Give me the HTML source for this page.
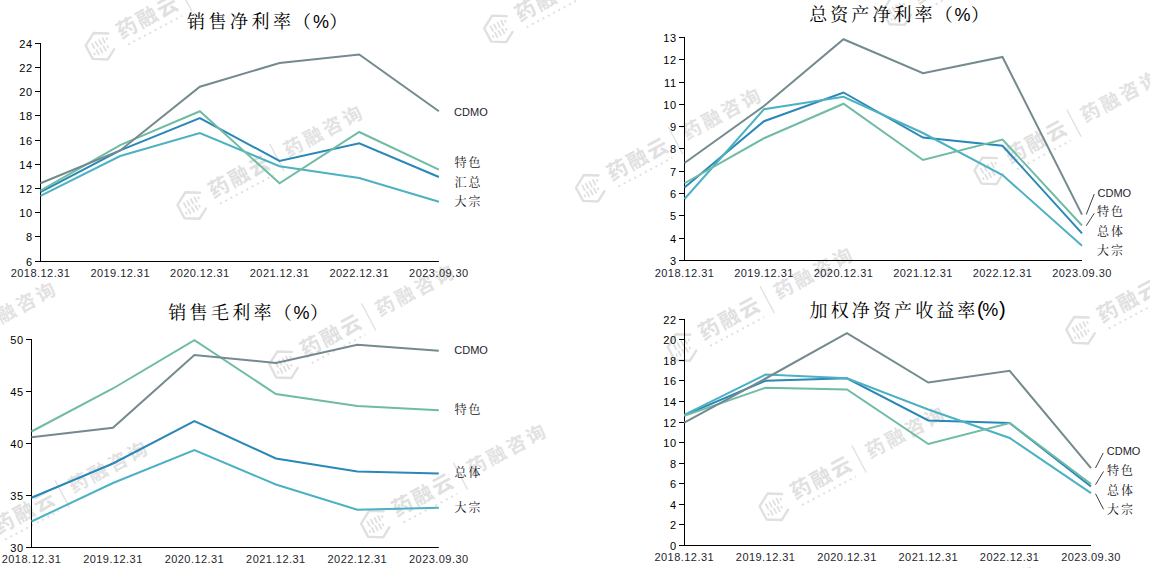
<!DOCTYPE html>
<html><head><meta charset="utf-8"><title>chart</title>
<style>
html,body{margin:0;padding:0;background:#fff;}
body{width:1150px;height:568px;overflow:hidden;}
svg{display:block;}
.yl{font-family:"Liberation Sans", sans-serif;font-size:11px;fill:#000;letter-spacing:0.7px;}
.xl{font-family:"Liberation Sans", sans-serif;font-size:11px;fill:#1e1e2e;letter-spacing:0.45px;}
.cd{font-family:"Liberation Sans", sans-serif;font-size:11px;fill:#1e1e2e;}
.lb{font-family:"Liberation Serif", "Noto Serif CJK SC", serif;font-size:12px;fill:#141420;letter-spacing:2px;}
.tt{font-family:"Liberation Serif", "Noto Serif CJK SC", serif;font-size:18px;fill:#000;}
.tp{font-family:"Liberation Sans", sans-serif;font-size:18px;fill:#000;}
.tq{font-family:"Liberation Sans", sans-serif;font-size:20px;fill:#000;}
.w1{font-family:"Liberation Sans", "Noto Sans CJK SC", sans-serif;font-size:20.5px;font-weight:700;fill:#e0e0e0;letter-spacing:2.2px;}
.w2{font-family:"Liberation Sans", "Noto Sans CJK SC", sans-serif;font-size:19px;font-weight:700;fill:#e2e2e2;letter-spacing:3.2px;}
</style></head>
<body>
<svg width="1150" height="568" viewBox="0 0 1150 568">
<rect width="1150" height="568" fill="#fff"/>
<g id="wm">
<g transform="translate(-206.0,222.8) rotate(-28)">
<path d="M 12.60 -7.72 L 0.00 -15.00 L -12.99 -7.50 L -12.99 7.50 L -0.00 15.00 L 10.39 9.00" fill="none" stroke="#e0e0e0" stroke-width="2.4" stroke-linejoin="round" stroke-linecap="round"/>
<line x1="-6.5" y1="-6.30" x2="-6.5" y2="-1.30" stroke="#e0e0e0" stroke-width="1.8" stroke-linecap="round"/>
<line x1="-2.5" y1="-6.30" x2="-2.5" y2="-1.30" stroke="#e0e0e0" stroke-width="1.8" stroke-linecap="round"/>
<line x1="1.5" y1="-6.30" x2="1.5" y2="-1.30" stroke="#e0e0e0" stroke-width="1.8" stroke-linecap="round"/>
<line x1="5.5" y1="-6.30" x2="5.5" y2="-1.30" stroke="#e0e0e0" stroke-width="1.8" stroke-linecap="round"/>
<line x1="9" y1="-4.40" x2="9" y2="-3.20" stroke="#e0e0e0" stroke-width="1.8" stroke-linecap="round"/>
<line x1="-9" y1="3.20" x2="-9" y2="4.40" stroke="#e0e0e0" stroke-width="1.8" stroke-linecap="round"/>
<line x1="-5.5" y1="1.30" x2="-5.5" y2="6.30" stroke="#e0e0e0" stroke-width="1.8" stroke-linecap="round"/>
<line x1="-1.5" y1="1.30" x2="-1.5" y2="6.30" stroke="#e0e0e0" stroke-width="1.8" stroke-linecap="round"/>
<line x1="2.5" y1="1.30" x2="2.5" y2="6.30" stroke="#e0e0e0" stroke-width="1.8" stroke-linecap="round"/>
<line x1="6" y1="3.20" x2="6" y2="4.40" stroke="#e0e0e0" stroke-width="1.8" stroke-linecap="round"/>
<text x="21.5" y="3.5" class="w1">药融云</text>
<line x1="25" y1="11.4" x2="86" y2="11.4" stroke="#e0e0e0" stroke-width="2" stroke-dasharray="2 4"/>
<line x1="97" y1="-18" x2="97" y2="12.7" stroke="#e0e0e0" stroke-width="1.3"/>
<text x="107" y="2.5" class="w2">药融咨询</text>
</g>
<g transform="translate(-114.2,382.1) rotate(-28)">
<path d="M 12.60 -7.72 L 0.00 -15.00 L -12.99 -7.50 L -12.99 7.50 L -0.00 15.00 L 10.39 9.00" fill="none" stroke="#e0e0e0" stroke-width="2.4" stroke-linejoin="round" stroke-linecap="round"/>
<line x1="-6.5" y1="-6.30" x2="-6.5" y2="-1.30" stroke="#e0e0e0" stroke-width="1.8" stroke-linecap="round"/>
<line x1="-2.5" y1="-6.30" x2="-2.5" y2="-1.30" stroke="#e0e0e0" stroke-width="1.8" stroke-linecap="round"/>
<line x1="1.5" y1="-6.30" x2="1.5" y2="-1.30" stroke="#e0e0e0" stroke-width="1.8" stroke-linecap="round"/>
<line x1="5.5" y1="-6.30" x2="5.5" y2="-1.30" stroke="#e0e0e0" stroke-width="1.8" stroke-linecap="round"/>
<line x1="9" y1="-4.40" x2="9" y2="-3.20" stroke="#e0e0e0" stroke-width="1.8" stroke-linecap="round"/>
<line x1="-9" y1="3.20" x2="-9" y2="4.40" stroke="#e0e0e0" stroke-width="1.8" stroke-linecap="round"/>
<line x1="-5.5" y1="1.30" x2="-5.5" y2="6.30" stroke="#e0e0e0" stroke-width="1.8" stroke-linecap="round"/>
<line x1="-1.5" y1="1.30" x2="-1.5" y2="6.30" stroke="#e0e0e0" stroke-width="1.8" stroke-linecap="round"/>
<line x1="2.5" y1="1.30" x2="2.5" y2="6.30" stroke="#e0e0e0" stroke-width="1.8" stroke-linecap="round"/>
<line x1="6" y1="3.20" x2="6" y2="4.40" stroke="#e0e0e0" stroke-width="1.8" stroke-linecap="round"/>
<text x="21.5" y="3.5" class="w1">药融云</text>
<line x1="25" y1="11.4" x2="86" y2="11.4" stroke="#e0e0e0" stroke-width="2" stroke-dasharray="2 4"/>
<line x1="97" y1="-18" x2="97" y2="12.7" stroke="#e0e0e0" stroke-width="1.3"/>
<text x="107" y="2.5" class="w2">药融咨询</text>
</g>
<g transform="translate(-22.4,541.4) rotate(-28)">
<path d="M 12.60 -7.72 L 0.00 -15.00 L -12.99 -7.50 L -12.99 7.50 L -0.00 15.00 L 10.39 9.00" fill="none" stroke="#e0e0e0" stroke-width="2.4" stroke-linejoin="round" stroke-linecap="round"/>
<line x1="-6.5" y1="-6.30" x2="-6.5" y2="-1.30" stroke="#e0e0e0" stroke-width="1.8" stroke-linecap="round"/>
<line x1="-2.5" y1="-6.30" x2="-2.5" y2="-1.30" stroke="#e0e0e0" stroke-width="1.8" stroke-linecap="round"/>
<line x1="1.5" y1="-6.30" x2="1.5" y2="-1.30" stroke="#e0e0e0" stroke-width="1.8" stroke-linecap="round"/>
<line x1="5.5" y1="-6.30" x2="5.5" y2="-1.30" stroke="#e0e0e0" stroke-width="1.8" stroke-linecap="round"/>
<line x1="9" y1="-4.40" x2="9" y2="-3.20" stroke="#e0e0e0" stroke-width="1.8" stroke-linecap="round"/>
<line x1="-9" y1="3.20" x2="-9" y2="4.40" stroke="#e0e0e0" stroke-width="1.8" stroke-linecap="round"/>
<line x1="-5.5" y1="1.30" x2="-5.5" y2="6.30" stroke="#e0e0e0" stroke-width="1.8" stroke-linecap="round"/>
<line x1="-1.5" y1="1.30" x2="-1.5" y2="6.30" stroke="#e0e0e0" stroke-width="1.8" stroke-linecap="round"/>
<line x1="2.5" y1="1.30" x2="2.5" y2="6.30" stroke="#e0e0e0" stroke-width="1.8" stroke-linecap="round"/>
<line x1="6" y1="3.20" x2="6" y2="4.40" stroke="#e0e0e0" stroke-width="1.8" stroke-linecap="round"/>
<text x="21.5" y="3.5" class="w1">药融云</text>
<line x1="25" y1="11.4" x2="86" y2="11.4" stroke="#e0e0e0" stroke-width="2" stroke-dasharray="2 4"/>
<line x1="97" y1="-18" x2="97" y2="12.7" stroke="#e0e0e0" stroke-width="1.3"/>
<text x="107" y="2.5" class="w2">药融咨询</text>
</g>
<g transform="translate(100.7,46.2) rotate(-28)">
<path d="M 12.60 -7.72 L 0.00 -15.00 L -12.99 -7.50 L -12.99 7.50 L -0.00 15.00 L 10.39 9.00" fill="none" stroke="#e0e0e0" stroke-width="2.4" stroke-linejoin="round" stroke-linecap="round"/>
<line x1="-6.5" y1="-6.30" x2="-6.5" y2="-1.30" stroke="#e0e0e0" stroke-width="1.8" stroke-linecap="round"/>
<line x1="-2.5" y1="-6.30" x2="-2.5" y2="-1.30" stroke="#e0e0e0" stroke-width="1.8" stroke-linecap="round"/>
<line x1="1.5" y1="-6.30" x2="1.5" y2="-1.30" stroke="#e0e0e0" stroke-width="1.8" stroke-linecap="round"/>
<line x1="5.5" y1="-6.30" x2="5.5" y2="-1.30" stroke="#e0e0e0" stroke-width="1.8" stroke-linecap="round"/>
<line x1="9" y1="-4.40" x2="9" y2="-3.20" stroke="#e0e0e0" stroke-width="1.8" stroke-linecap="round"/>
<line x1="-9" y1="3.20" x2="-9" y2="4.40" stroke="#e0e0e0" stroke-width="1.8" stroke-linecap="round"/>
<line x1="-5.5" y1="1.30" x2="-5.5" y2="6.30" stroke="#e0e0e0" stroke-width="1.8" stroke-linecap="round"/>
<line x1="-1.5" y1="1.30" x2="-1.5" y2="6.30" stroke="#e0e0e0" stroke-width="1.8" stroke-linecap="round"/>
<line x1="2.5" y1="1.30" x2="2.5" y2="6.30" stroke="#e0e0e0" stroke-width="1.8" stroke-linecap="round"/>
<line x1="6" y1="3.20" x2="6" y2="4.40" stroke="#e0e0e0" stroke-width="1.8" stroke-linecap="round"/>
<text x="21.5" y="3.5" class="w1">药融云</text>
<line x1="25" y1="11.4" x2="86" y2="11.4" stroke="#e0e0e0" stroke-width="2" stroke-dasharray="2 4"/>
<line x1="97" y1="-18" x2="97" y2="12.7" stroke="#e0e0e0" stroke-width="1.3"/>
<text x="107" y="2.5" class="w2">药融咨询</text>
</g>
<g transform="translate(192.5,205.5) rotate(-28)">
<path d="M 12.60 -7.72 L 0.00 -15.00 L -12.99 -7.50 L -12.99 7.50 L -0.00 15.00 L 10.39 9.00" fill="none" stroke="#e0e0e0" stroke-width="2.4" stroke-linejoin="round" stroke-linecap="round"/>
<line x1="-6.5" y1="-6.30" x2="-6.5" y2="-1.30" stroke="#e0e0e0" stroke-width="1.8" stroke-linecap="round"/>
<line x1="-2.5" y1="-6.30" x2="-2.5" y2="-1.30" stroke="#e0e0e0" stroke-width="1.8" stroke-linecap="round"/>
<line x1="1.5" y1="-6.30" x2="1.5" y2="-1.30" stroke="#e0e0e0" stroke-width="1.8" stroke-linecap="round"/>
<line x1="5.5" y1="-6.30" x2="5.5" y2="-1.30" stroke="#e0e0e0" stroke-width="1.8" stroke-linecap="round"/>
<line x1="9" y1="-4.40" x2="9" y2="-3.20" stroke="#e0e0e0" stroke-width="1.8" stroke-linecap="round"/>
<line x1="-9" y1="3.20" x2="-9" y2="4.40" stroke="#e0e0e0" stroke-width="1.8" stroke-linecap="round"/>
<line x1="-5.5" y1="1.30" x2="-5.5" y2="6.30" stroke="#e0e0e0" stroke-width="1.8" stroke-linecap="round"/>
<line x1="-1.5" y1="1.30" x2="-1.5" y2="6.30" stroke="#e0e0e0" stroke-width="1.8" stroke-linecap="round"/>
<line x1="2.5" y1="1.30" x2="2.5" y2="6.30" stroke="#e0e0e0" stroke-width="1.8" stroke-linecap="round"/>
<line x1="6" y1="3.20" x2="6" y2="4.40" stroke="#e0e0e0" stroke-width="1.8" stroke-linecap="round"/>
<text x="21.5" y="3.5" class="w1">药融云</text>
<line x1="25" y1="11.4" x2="86" y2="11.4" stroke="#e0e0e0" stroke-width="2" stroke-dasharray="2 4"/>
<line x1="97" y1="-18" x2="97" y2="12.7" stroke="#e0e0e0" stroke-width="1.3"/>
<text x="107" y="2.5" class="w2">药融咨询</text>
</g>
<g transform="translate(284.3,364.8) rotate(-28)">
<path d="M 12.60 -7.72 L 0.00 -15.00 L -12.99 -7.50 L -12.99 7.50 L -0.00 15.00 L 10.39 9.00" fill="none" stroke="#e0e0e0" stroke-width="2.4" stroke-linejoin="round" stroke-linecap="round"/>
<line x1="-6.5" y1="-6.30" x2="-6.5" y2="-1.30" stroke="#e0e0e0" stroke-width="1.8" stroke-linecap="round"/>
<line x1="-2.5" y1="-6.30" x2="-2.5" y2="-1.30" stroke="#e0e0e0" stroke-width="1.8" stroke-linecap="round"/>
<line x1="1.5" y1="-6.30" x2="1.5" y2="-1.30" stroke="#e0e0e0" stroke-width="1.8" stroke-linecap="round"/>
<line x1="5.5" y1="-6.30" x2="5.5" y2="-1.30" stroke="#e0e0e0" stroke-width="1.8" stroke-linecap="round"/>
<line x1="9" y1="-4.40" x2="9" y2="-3.20" stroke="#e0e0e0" stroke-width="1.8" stroke-linecap="round"/>
<line x1="-9" y1="3.20" x2="-9" y2="4.40" stroke="#e0e0e0" stroke-width="1.8" stroke-linecap="round"/>
<line x1="-5.5" y1="1.30" x2="-5.5" y2="6.30" stroke="#e0e0e0" stroke-width="1.8" stroke-linecap="round"/>
<line x1="-1.5" y1="1.30" x2="-1.5" y2="6.30" stroke="#e0e0e0" stroke-width="1.8" stroke-linecap="round"/>
<line x1="2.5" y1="1.30" x2="2.5" y2="6.30" stroke="#e0e0e0" stroke-width="1.8" stroke-linecap="round"/>
<line x1="6" y1="3.20" x2="6" y2="4.40" stroke="#e0e0e0" stroke-width="1.8" stroke-linecap="round"/>
<text x="21.5" y="3.5" class="w1">药融云</text>
<line x1="25" y1="11.4" x2="86" y2="11.4" stroke="#e0e0e0" stroke-width="2" stroke-dasharray="2 4"/>
<line x1="97" y1="-18" x2="97" y2="12.7" stroke="#e0e0e0" stroke-width="1.3"/>
<text x="107" y="2.5" class="w2">药融咨询</text>
</g>
<g transform="translate(376.1,524.1) rotate(-28)">
<path d="M 12.60 -7.72 L 0.00 -15.00 L -12.99 -7.50 L -12.99 7.50 L -0.00 15.00 L 10.39 9.00" fill="none" stroke="#e0e0e0" stroke-width="2.4" stroke-linejoin="round" stroke-linecap="round"/>
<line x1="-6.5" y1="-6.30" x2="-6.5" y2="-1.30" stroke="#e0e0e0" stroke-width="1.8" stroke-linecap="round"/>
<line x1="-2.5" y1="-6.30" x2="-2.5" y2="-1.30" stroke="#e0e0e0" stroke-width="1.8" stroke-linecap="round"/>
<line x1="1.5" y1="-6.30" x2="1.5" y2="-1.30" stroke="#e0e0e0" stroke-width="1.8" stroke-linecap="round"/>
<line x1="5.5" y1="-6.30" x2="5.5" y2="-1.30" stroke="#e0e0e0" stroke-width="1.8" stroke-linecap="round"/>
<line x1="9" y1="-4.40" x2="9" y2="-3.20" stroke="#e0e0e0" stroke-width="1.8" stroke-linecap="round"/>
<line x1="-9" y1="3.20" x2="-9" y2="4.40" stroke="#e0e0e0" stroke-width="1.8" stroke-linecap="round"/>
<line x1="-5.5" y1="1.30" x2="-5.5" y2="6.30" stroke="#e0e0e0" stroke-width="1.8" stroke-linecap="round"/>
<line x1="-1.5" y1="1.30" x2="-1.5" y2="6.30" stroke="#e0e0e0" stroke-width="1.8" stroke-linecap="round"/>
<line x1="2.5" y1="1.30" x2="2.5" y2="6.30" stroke="#e0e0e0" stroke-width="1.8" stroke-linecap="round"/>
<line x1="6" y1="3.20" x2="6" y2="4.40" stroke="#e0e0e0" stroke-width="1.8" stroke-linecap="round"/>
<text x="21.5" y="3.5" class="w1">药融云</text>
<line x1="25" y1="11.4" x2="86" y2="11.4" stroke="#e0e0e0" stroke-width="2" stroke-dasharray="2 4"/>
<line x1="97" y1="-18" x2="97" y2="12.7" stroke="#e0e0e0" stroke-width="1.3"/>
<text x="107" y="2.5" class="w2">药融咨询</text>
</g>
<g transform="translate(467.9,683.4) rotate(-28)">
<path d="M 12.60 -7.72 L 0.00 -15.00 L -12.99 -7.50 L -12.99 7.50 L -0.00 15.00 L 10.39 9.00" fill="none" stroke="#e0e0e0" stroke-width="2.4" stroke-linejoin="round" stroke-linecap="round"/>
<line x1="-6.5" y1="-6.30" x2="-6.5" y2="-1.30" stroke="#e0e0e0" stroke-width="1.8" stroke-linecap="round"/>
<line x1="-2.5" y1="-6.30" x2="-2.5" y2="-1.30" stroke="#e0e0e0" stroke-width="1.8" stroke-linecap="round"/>
<line x1="1.5" y1="-6.30" x2="1.5" y2="-1.30" stroke="#e0e0e0" stroke-width="1.8" stroke-linecap="round"/>
<line x1="5.5" y1="-6.30" x2="5.5" y2="-1.30" stroke="#e0e0e0" stroke-width="1.8" stroke-linecap="round"/>
<line x1="9" y1="-4.40" x2="9" y2="-3.20" stroke="#e0e0e0" stroke-width="1.8" stroke-linecap="round"/>
<line x1="-9" y1="3.20" x2="-9" y2="4.40" stroke="#e0e0e0" stroke-width="1.8" stroke-linecap="round"/>
<line x1="-5.5" y1="1.30" x2="-5.5" y2="6.30" stroke="#e0e0e0" stroke-width="1.8" stroke-linecap="round"/>
<line x1="-1.5" y1="1.30" x2="-1.5" y2="6.30" stroke="#e0e0e0" stroke-width="1.8" stroke-linecap="round"/>
<line x1="2.5" y1="1.30" x2="2.5" y2="6.30" stroke="#e0e0e0" stroke-width="1.8" stroke-linecap="round"/>
<line x1="6" y1="3.20" x2="6" y2="4.40" stroke="#e0e0e0" stroke-width="1.8" stroke-linecap="round"/>
<text x="21.5" y="3.5" class="w1">药融云</text>
<line x1="25" y1="11.4" x2="86" y2="11.4" stroke="#e0e0e0" stroke-width="2" stroke-dasharray="2 4"/>
<line x1="97" y1="-18" x2="97" y2="12.7" stroke="#e0e0e0" stroke-width="1.3"/>
<text x="107" y="2.5" class="w2">药融咨询</text>
</g>
<g transform="translate(499.2,28.9) rotate(-28)">
<path d="M 12.60 -7.72 L 0.00 -15.00 L -12.99 -7.50 L -12.99 7.50 L -0.00 15.00 L 10.39 9.00" fill="none" stroke="#e0e0e0" stroke-width="2.4" stroke-linejoin="round" stroke-linecap="round"/>
<line x1="-6.5" y1="-6.30" x2="-6.5" y2="-1.30" stroke="#e0e0e0" stroke-width="1.8" stroke-linecap="round"/>
<line x1="-2.5" y1="-6.30" x2="-2.5" y2="-1.30" stroke="#e0e0e0" stroke-width="1.8" stroke-linecap="round"/>
<line x1="1.5" y1="-6.30" x2="1.5" y2="-1.30" stroke="#e0e0e0" stroke-width="1.8" stroke-linecap="round"/>
<line x1="5.5" y1="-6.30" x2="5.5" y2="-1.30" stroke="#e0e0e0" stroke-width="1.8" stroke-linecap="round"/>
<line x1="9" y1="-4.40" x2="9" y2="-3.20" stroke="#e0e0e0" stroke-width="1.8" stroke-linecap="round"/>
<line x1="-9" y1="3.20" x2="-9" y2="4.40" stroke="#e0e0e0" stroke-width="1.8" stroke-linecap="round"/>
<line x1="-5.5" y1="1.30" x2="-5.5" y2="6.30" stroke="#e0e0e0" stroke-width="1.8" stroke-linecap="round"/>
<line x1="-1.5" y1="1.30" x2="-1.5" y2="6.30" stroke="#e0e0e0" stroke-width="1.8" stroke-linecap="round"/>
<line x1="2.5" y1="1.30" x2="2.5" y2="6.30" stroke="#e0e0e0" stroke-width="1.8" stroke-linecap="round"/>
<line x1="6" y1="3.20" x2="6" y2="4.40" stroke="#e0e0e0" stroke-width="1.8" stroke-linecap="round"/>
<text x="21.5" y="3.5" class="w1">药融云</text>
<line x1="25" y1="11.4" x2="86" y2="11.4" stroke="#e0e0e0" stroke-width="2" stroke-dasharray="2 4"/>
<line x1="97" y1="-18" x2="97" y2="12.7" stroke="#e0e0e0" stroke-width="1.3"/>
<text x="107" y="2.5" class="w2">药融咨询</text>
</g>
<g transform="translate(591.0,188.2) rotate(-28)">
<path d="M 12.60 -7.72 L 0.00 -15.00 L -12.99 -7.50 L -12.99 7.50 L -0.00 15.00 L 10.39 9.00" fill="none" stroke="#e0e0e0" stroke-width="2.4" stroke-linejoin="round" stroke-linecap="round"/>
<line x1="-6.5" y1="-6.30" x2="-6.5" y2="-1.30" stroke="#e0e0e0" stroke-width="1.8" stroke-linecap="round"/>
<line x1="-2.5" y1="-6.30" x2="-2.5" y2="-1.30" stroke="#e0e0e0" stroke-width="1.8" stroke-linecap="round"/>
<line x1="1.5" y1="-6.30" x2="1.5" y2="-1.30" stroke="#e0e0e0" stroke-width="1.8" stroke-linecap="round"/>
<line x1="5.5" y1="-6.30" x2="5.5" y2="-1.30" stroke="#e0e0e0" stroke-width="1.8" stroke-linecap="round"/>
<line x1="9" y1="-4.40" x2="9" y2="-3.20" stroke="#e0e0e0" stroke-width="1.8" stroke-linecap="round"/>
<line x1="-9" y1="3.20" x2="-9" y2="4.40" stroke="#e0e0e0" stroke-width="1.8" stroke-linecap="round"/>
<line x1="-5.5" y1="1.30" x2="-5.5" y2="6.30" stroke="#e0e0e0" stroke-width="1.8" stroke-linecap="round"/>
<line x1="-1.5" y1="1.30" x2="-1.5" y2="6.30" stroke="#e0e0e0" stroke-width="1.8" stroke-linecap="round"/>
<line x1="2.5" y1="1.30" x2="2.5" y2="6.30" stroke="#e0e0e0" stroke-width="1.8" stroke-linecap="round"/>
<line x1="6" y1="3.20" x2="6" y2="4.40" stroke="#e0e0e0" stroke-width="1.8" stroke-linecap="round"/>
<text x="21.5" y="3.5" class="w1">药融云</text>
<line x1="25" y1="11.4" x2="86" y2="11.4" stroke="#e0e0e0" stroke-width="2" stroke-dasharray="2 4"/>
<line x1="97" y1="-18" x2="97" y2="12.7" stroke="#e0e0e0" stroke-width="1.3"/>
<text x="107" y="2.5" class="w2">药融咨询</text>
</g>
<g transform="translate(682.8,347.5) rotate(-28)">
<path d="M 12.60 -7.72 L 0.00 -15.00 L -12.99 -7.50 L -12.99 7.50 L -0.00 15.00 L 10.39 9.00" fill="none" stroke="#e0e0e0" stroke-width="2.4" stroke-linejoin="round" stroke-linecap="round"/>
<line x1="-6.5" y1="-6.30" x2="-6.5" y2="-1.30" stroke="#e0e0e0" stroke-width="1.8" stroke-linecap="round"/>
<line x1="-2.5" y1="-6.30" x2="-2.5" y2="-1.30" stroke="#e0e0e0" stroke-width="1.8" stroke-linecap="round"/>
<line x1="1.5" y1="-6.30" x2="1.5" y2="-1.30" stroke="#e0e0e0" stroke-width="1.8" stroke-linecap="round"/>
<line x1="5.5" y1="-6.30" x2="5.5" y2="-1.30" stroke="#e0e0e0" stroke-width="1.8" stroke-linecap="round"/>
<line x1="9" y1="-4.40" x2="9" y2="-3.20" stroke="#e0e0e0" stroke-width="1.8" stroke-linecap="round"/>
<line x1="-9" y1="3.20" x2="-9" y2="4.40" stroke="#e0e0e0" stroke-width="1.8" stroke-linecap="round"/>
<line x1="-5.5" y1="1.30" x2="-5.5" y2="6.30" stroke="#e0e0e0" stroke-width="1.8" stroke-linecap="round"/>
<line x1="-1.5" y1="1.30" x2="-1.5" y2="6.30" stroke="#e0e0e0" stroke-width="1.8" stroke-linecap="round"/>
<line x1="2.5" y1="1.30" x2="2.5" y2="6.30" stroke="#e0e0e0" stroke-width="1.8" stroke-linecap="round"/>
<line x1="6" y1="3.20" x2="6" y2="4.40" stroke="#e0e0e0" stroke-width="1.8" stroke-linecap="round"/>
<text x="21.5" y="3.5" class="w1">药融云</text>
<line x1="25" y1="11.4" x2="86" y2="11.4" stroke="#e0e0e0" stroke-width="2" stroke-dasharray="2 4"/>
<line x1="97" y1="-18" x2="97" y2="12.7" stroke="#e0e0e0" stroke-width="1.3"/>
<text x="107" y="2.5" class="w2">药融咨询</text>
</g>
<g transform="translate(774.6,506.8) rotate(-28)">
<path d="M 12.60 -7.72 L 0.00 -15.00 L -12.99 -7.50 L -12.99 7.50 L -0.00 15.00 L 10.39 9.00" fill="none" stroke="#e0e0e0" stroke-width="2.4" stroke-linejoin="round" stroke-linecap="round"/>
<line x1="-6.5" y1="-6.30" x2="-6.5" y2="-1.30" stroke="#e0e0e0" stroke-width="1.8" stroke-linecap="round"/>
<line x1="-2.5" y1="-6.30" x2="-2.5" y2="-1.30" stroke="#e0e0e0" stroke-width="1.8" stroke-linecap="round"/>
<line x1="1.5" y1="-6.30" x2="1.5" y2="-1.30" stroke="#e0e0e0" stroke-width="1.8" stroke-linecap="round"/>
<line x1="5.5" y1="-6.30" x2="5.5" y2="-1.30" stroke="#e0e0e0" stroke-width="1.8" stroke-linecap="round"/>
<line x1="9" y1="-4.40" x2="9" y2="-3.20" stroke="#e0e0e0" stroke-width="1.8" stroke-linecap="round"/>
<line x1="-9" y1="3.20" x2="-9" y2="4.40" stroke="#e0e0e0" stroke-width="1.8" stroke-linecap="round"/>
<line x1="-5.5" y1="1.30" x2="-5.5" y2="6.30" stroke="#e0e0e0" stroke-width="1.8" stroke-linecap="round"/>
<line x1="-1.5" y1="1.30" x2="-1.5" y2="6.30" stroke="#e0e0e0" stroke-width="1.8" stroke-linecap="round"/>
<line x1="2.5" y1="1.30" x2="2.5" y2="6.30" stroke="#e0e0e0" stroke-width="1.8" stroke-linecap="round"/>
<line x1="6" y1="3.20" x2="6" y2="4.40" stroke="#e0e0e0" stroke-width="1.8" stroke-linecap="round"/>
<text x="21.5" y="3.5" class="w1">药融云</text>
<line x1="25" y1="11.4" x2="86" y2="11.4" stroke="#e0e0e0" stroke-width="2" stroke-dasharray="2 4"/>
<line x1="97" y1="-18" x2="97" y2="12.7" stroke="#e0e0e0" stroke-width="1.3"/>
<text x="107" y="2.5" class="w2">药融咨询</text>
</g>
<g transform="translate(866.4,666.1) rotate(-28)">
<path d="M 12.60 -7.72 L 0.00 -15.00 L -12.99 -7.50 L -12.99 7.50 L -0.00 15.00 L 10.39 9.00" fill="none" stroke="#e0e0e0" stroke-width="2.4" stroke-linejoin="round" stroke-linecap="round"/>
<line x1="-6.5" y1="-6.30" x2="-6.5" y2="-1.30" stroke="#e0e0e0" stroke-width="1.8" stroke-linecap="round"/>
<line x1="-2.5" y1="-6.30" x2="-2.5" y2="-1.30" stroke="#e0e0e0" stroke-width="1.8" stroke-linecap="round"/>
<line x1="1.5" y1="-6.30" x2="1.5" y2="-1.30" stroke="#e0e0e0" stroke-width="1.8" stroke-linecap="round"/>
<line x1="5.5" y1="-6.30" x2="5.5" y2="-1.30" stroke="#e0e0e0" stroke-width="1.8" stroke-linecap="round"/>
<line x1="9" y1="-4.40" x2="9" y2="-3.20" stroke="#e0e0e0" stroke-width="1.8" stroke-linecap="round"/>
<line x1="-9" y1="3.20" x2="-9" y2="4.40" stroke="#e0e0e0" stroke-width="1.8" stroke-linecap="round"/>
<line x1="-5.5" y1="1.30" x2="-5.5" y2="6.30" stroke="#e0e0e0" stroke-width="1.8" stroke-linecap="round"/>
<line x1="-1.5" y1="1.30" x2="-1.5" y2="6.30" stroke="#e0e0e0" stroke-width="1.8" stroke-linecap="round"/>
<line x1="2.5" y1="1.30" x2="2.5" y2="6.30" stroke="#e0e0e0" stroke-width="1.8" stroke-linecap="round"/>
<line x1="6" y1="3.20" x2="6" y2="4.40" stroke="#e0e0e0" stroke-width="1.8" stroke-linecap="round"/>
<text x="21.5" y="3.5" class="w1">药融云</text>
<line x1="25" y1="11.4" x2="86" y2="11.4" stroke="#e0e0e0" stroke-width="2" stroke-dasharray="2 4"/>
<line x1="97" y1="-18" x2="97" y2="12.7" stroke="#e0e0e0" stroke-width="1.3"/>
<text x="107" y="2.5" class="w2">药融咨询</text>
</g>
<g transform="translate(897.7,11.6) rotate(-28)">
<path d="M 12.60 -7.72 L 0.00 -15.00 L -12.99 -7.50 L -12.99 7.50 L -0.00 15.00 L 10.39 9.00" fill="none" stroke="#e0e0e0" stroke-width="2.4" stroke-linejoin="round" stroke-linecap="round"/>
<line x1="-6.5" y1="-6.30" x2="-6.5" y2="-1.30" stroke="#e0e0e0" stroke-width="1.8" stroke-linecap="round"/>
<line x1="-2.5" y1="-6.30" x2="-2.5" y2="-1.30" stroke="#e0e0e0" stroke-width="1.8" stroke-linecap="round"/>
<line x1="1.5" y1="-6.30" x2="1.5" y2="-1.30" stroke="#e0e0e0" stroke-width="1.8" stroke-linecap="round"/>
<line x1="5.5" y1="-6.30" x2="5.5" y2="-1.30" stroke="#e0e0e0" stroke-width="1.8" stroke-linecap="round"/>
<line x1="9" y1="-4.40" x2="9" y2="-3.20" stroke="#e0e0e0" stroke-width="1.8" stroke-linecap="round"/>
<line x1="-9" y1="3.20" x2="-9" y2="4.40" stroke="#e0e0e0" stroke-width="1.8" stroke-linecap="round"/>
<line x1="-5.5" y1="1.30" x2="-5.5" y2="6.30" stroke="#e0e0e0" stroke-width="1.8" stroke-linecap="round"/>
<line x1="-1.5" y1="1.30" x2="-1.5" y2="6.30" stroke="#e0e0e0" stroke-width="1.8" stroke-linecap="round"/>
<line x1="2.5" y1="1.30" x2="2.5" y2="6.30" stroke="#e0e0e0" stroke-width="1.8" stroke-linecap="round"/>
<line x1="6" y1="3.20" x2="6" y2="4.40" stroke="#e0e0e0" stroke-width="1.8" stroke-linecap="round"/>
<text x="21.5" y="3.5" class="w1">药融云</text>
<line x1="25" y1="11.4" x2="86" y2="11.4" stroke="#e0e0e0" stroke-width="2" stroke-dasharray="2 4"/>
<line x1="97" y1="-18" x2="97" y2="12.7" stroke="#e0e0e0" stroke-width="1.3"/>
<text x="107" y="2.5" class="w2">药融咨询</text>
</g>
<g transform="translate(989.5,170.9) rotate(-28)">
<path d="M 12.60 -7.72 L 0.00 -15.00 L -12.99 -7.50 L -12.99 7.50 L -0.00 15.00 L 10.39 9.00" fill="none" stroke="#e0e0e0" stroke-width="2.4" stroke-linejoin="round" stroke-linecap="round"/>
<line x1="-6.5" y1="-6.30" x2="-6.5" y2="-1.30" stroke="#e0e0e0" stroke-width="1.8" stroke-linecap="round"/>
<line x1="-2.5" y1="-6.30" x2="-2.5" y2="-1.30" stroke="#e0e0e0" stroke-width="1.8" stroke-linecap="round"/>
<line x1="1.5" y1="-6.30" x2="1.5" y2="-1.30" stroke="#e0e0e0" stroke-width="1.8" stroke-linecap="round"/>
<line x1="5.5" y1="-6.30" x2="5.5" y2="-1.30" stroke="#e0e0e0" stroke-width="1.8" stroke-linecap="round"/>
<line x1="9" y1="-4.40" x2="9" y2="-3.20" stroke="#e0e0e0" stroke-width="1.8" stroke-linecap="round"/>
<line x1="-9" y1="3.20" x2="-9" y2="4.40" stroke="#e0e0e0" stroke-width="1.8" stroke-linecap="round"/>
<line x1="-5.5" y1="1.30" x2="-5.5" y2="6.30" stroke="#e0e0e0" stroke-width="1.8" stroke-linecap="round"/>
<line x1="-1.5" y1="1.30" x2="-1.5" y2="6.30" stroke="#e0e0e0" stroke-width="1.8" stroke-linecap="round"/>
<line x1="2.5" y1="1.30" x2="2.5" y2="6.30" stroke="#e0e0e0" stroke-width="1.8" stroke-linecap="round"/>
<line x1="6" y1="3.20" x2="6" y2="4.40" stroke="#e0e0e0" stroke-width="1.8" stroke-linecap="round"/>
<text x="21.5" y="3.5" class="w1">药融云</text>
<line x1="25" y1="11.4" x2="86" y2="11.4" stroke="#e0e0e0" stroke-width="2" stroke-dasharray="2 4"/>
<line x1="97" y1="-18" x2="97" y2="12.7" stroke="#e0e0e0" stroke-width="1.3"/>
<text x="107" y="2.5" class="w2">药融咨询</text>
</g>
<g transform="translate(1081.3,330.2) rotate(-28)">
<path d="M 12.60 -7.72 L 0.00 -15.00 L -12.99 -7.50 L -12.99 7.50 L -0.00 15.00 L 10.39 9.00" fill="none" stroke="#e0e0e0" stroke-width="2.4" stroke-linejoin="round" stroke-linecap="round"/>
<line x1="-6.5" y1="-6.30" x2="-6.5" y2="-1.30" stroke="#e0e0e0" stroke-width="1.8" stroke-linecap="round"/>
<line x1="-2.5" y1="-6.30" x2="-2.5" y2="-1.30" stroke="#e0e0e0" stroke-width="1.8" stroke-linecap="round"/>
<line x1="1.5" y1="-6.30" x2="1.5" y2="-1.30" stroke="#e0e0e0" stroke-width="1.8" stroke-linecap="round"/>
<line x1="5.5" y1="-6.30" x2="5.5" y2="-1.30" stroke="#e0e0e0" stroke-width="1.8" stroke-linecap="round"/>
<line x1="9" y1="-4.40" x2="9" y2="-3.20" stroke="#e0e0e0" stroke-width="1.8" stroke-linecap="round"/>
<line x1="-9" y1="3.20" x2="-9" y2="4.40" stroke="#e0e0e0" stroke-width="1.8" stroke-linecap="round"/>
<line x1="-5.5" y1="1.30" x2="-5.5" y2="6.30" stroke="#e0e0e0" stroke-width="1.8" stroke-linecap="round"/>
<line x1="-1.5" y1="1.30" x2="-1.5" y2="6.30" stroke="#e0e0e0" stroke-width="1.8" stroke-linecap="round"/>
<line x1="2.5" y1="1.30" x2="2.5" y2="6.30" stroke="#e0e0e0" stroke-width="1.8" stroke-linecap="round"/>
<line x1="6" y1="3.20" x2="6" y2="4.40" stroke="#e0e0e0" stroke-width="1.8" stroke-linecap="round"/>
<text x="21.5" y="3.5" class="w1">药融云</text>
<line x1="25" y1="11.4" x2="86" y2="11.4" stroke="#e0e0e0" stroke-width="2" stroke-dasharray="2 4"/>
<line x1="97" y1="-18" x2="97" y2="12.7" stroke="#e0e0e0" stroke-width="1.3"/>
<text x="107" y="2.5" class="w2">药融咨询</text>
</g>
</g>
<line x1="40.5" y1="43.0" x2="40.5" y2="262.0" stroke="#000" stroke-width="1"/>
<line x1="35.0" y1="261.5" x2="438.90000000000003" y2="261.5" stroke="#000" stroke-width="1"/>
<line x1="35.0" y1="43.50" x2="40.5" y2="43.50" stroke="#000" stroke-width="1"/>
<text x="32.90" y="47.50" text-anchor="end" class="yl">24</text>
<line x1="35.0" y1="67.50" x2="40.5" y2="67.50" stroke="#000" stroke-width="1"/>
<text x="32.90" y="71.50" text-anchor="end" class="yl">22</text>
<line x1="35.0" y1="91.50" x2="40.5" y2="91.50" stroke="#000" stroke-width="1"/>
<text x="32.90" y="95.50" text-anchor="end" class="yl">20</text>
<line x1="35.0" y1="115.50" x2="40.5" y2="115.50" stroke="#000" stroke-width="1"/>
<text x="32.90" y="119.50" text-anchor="end" class="yl">18</text>
<line x1="35.0" y1="140.50" x2="40.5" y2="140.50" stroke="#000" stroke-width="1"/>
<text x="32.90" y="144.50" text-anchor="end" class="yl">16</text>
<line x1="35.0" y1="164.50" x2="40.5" y2="164.50" stroke="#000" stroke-width="1"/>
<text x="32.90" y="168.50" text-anchor="end" class="yl">14</text>
<line x1="35.0" y1="188.50" x2="40.5" y2="188.50" stroke="#000" stroke-width="1"/>
<text x="32.90" y="192.50" text-anchor="end" class="yl">12</text>
<line x1="35.0" y1="212.50" x2="40.5" y2="212.50" stroke="#000" stroke-width="1"/>
<text x="32.90" y="216.50" text-anchor="end" class="yl">10</text>
<line x1="35.0" y1="236.50" x2="40.5" y2="236.50" stroke="#000" stroke-width="1"/>
<text x="32.90" y="240.50" text-anchor="end" class="yl">8</text>
<line x1="35.0" y1="261.50" x2="40.5" y2="261.50" stroke="#000" stroke-width="1"/>
<text x="32.90" y="265.50" text-anchor="end" class="yl">6</text>
<text x="40.50" y="277" text-anchor="middle" class="xl">2018.12.31</text>
<text x="120.18" y="277" text-anchor="middle" class="xl">2019.12.31</text>
<text x="199.86" y="277" text-anchor="middle" class="xl">2020.12.31</text>
<text x="279.54" y="277" text-anchor="middle" class="xl">2021.12.31</text>
<text x="359.22" y="277" text-anchor="middle" class="xl">2022.12.31</text>
<text x="438.90" y="277" text-anchor="middle" class="xl">2023.09.30</text>
<polyline points="40.50,192.20 120.18,150.40 199.86,118.00 279.54,161.00 359.22,143.25 438.90,177.00" fill="none" stroke="#2a88b8" stroke-width="2" stroke-linejoin="miter"/>
<polyline points="40.50,195.90 120.18,156.00 199.86,133.00 279.54,166.25 359.22,178.00 438.90,201.80" fill="none" stroke="#4cb1c2" stroke-width="2" stroke-linejoin="miter"/>
<polyline points="40.50,190.65 120.18,145.20 199.86,111.25 279.54,183.25 359.22,132.00 438.90,169.60" fill="none" stroke="#6fbba3" stroke-width="2" stroke-linejoin="miter"/>
<polyline points="40.50,183.25 120.18,150.50 199.86,86.75 279.54,63.00 359.22,54.50 438.90,111.25" fill="none" stroke="#748a8e" stroke-width="2" stroke-linejoin="miter"/>
<text x="454.1" y="115.90" class="cd">CDMO</text>
<text x="454.4" y="166.50" class="lb">特色</text>
<text x="454.4" y="187.10" class="lb">汇总</text>
<text x="454.4" y="205.50" class="lb">大宗</text>
<text x="187.10" y="27.50" class="tt" style="letter-spacing:3.45px">销售净利率</text>
<text x="293.00" y="27.50" class="tt">（</text>
<text x="312.90" y="27.50" class="tp">%</text>
<text x="329.20" y="27.50" class="tt">）</text>
<line x1="684.5" y1="37.0" x2="684.5" y2="261.0" stroke="#000" stroke-width="1"/>
<line x1="679.0" y1="260.5" x2="1082.0" y2="260.5" stroke="#000" stroke-width="1"/>
<line x1="679.0" y1="37.50" x2="684.5" y2="37.50" stroke="#000" stroke-width="1"/>
<text x="676.90" y="41.50" text-anchor="end" class="yl">13</text>
<line x1="679.0" y1="59.50" x2="684.5" y2="59.50" stroke="#000" stroke-width="1"/>
<text x="676.90" y="63.50" text-anchor="end" class="yl">12</text>
<line x1="679.0" y1="82.50" x2="684.5" y2="82.50" stroke="#000" stroke-width="1"/>
<text x="676.90" y="86.50" text-anchor="end" class="yl">11</text>
<line x1="679.0" y1="104.50" x2="684.5" y2="104.50" stroke="#000" stroke-width="1"/>
<text x="676.90" y="108.50" text-anchor="end" class="yl">10</text>
<line x1="679.0" y1="126.50" x2="684.5" y2="126.50" stroke="#000" stroke-width="1"/>
<text x="676.90" y="130.50" text-anchor="end" class="yl">9</text>
<line x1="679.0" y1="148.50" x2="684.5" y2="148.50" stroke="#000" stroke-width="1"/>
<text x="676.90" y="152.50" text-anchor="end" class="yl">8</text>
<line x1="679.0" y1="171.50" x2="684.5" y2="171.50" stroke="#000" stroke-width="1"/>
<text x="676.90" y="175.50" text-anchor="end" class="yl">7</text>
<line x1="679.0" y1="193.50" x2="684.5" y2="193.50" stroke="#000" stroke-width="1"/>
<text x="676.90" y="197.50" text-anchor="end" class="yl">6</text>
<line x1="679.0" y1="215.50" x2="684.5" y2="215.50" stroke="#000" stroke-width="1"/>
<text x="676.90" y="219.50" text-anchor="end" class="yl">5</text>
<line x1="679.0" y1="238.50" x2="684.5" y2="238.50" stroke="#000" stroke-width="1"/>
<text x="676.90" y="242.50" text-anchor="end" class="yl">4</text>
<line x1="679.0" y1="260.50" x2="684.5" y2="260.50" stroke="#000" stroke-width="1"/>
<text x="676.90" y="264.50" text-anchor="end" class="yl">3</text>
<text x="684.50" y="277" text-anchor="middle" class="xl">2018.12.31</text>
<text x="764.00" y="277" text-anchor="middle" class="xl">2019.12.31</text>
<text x="843.50" y="277" text-anchor="middle" class="xl">2020.12.31</text>
<text x="923.00" y="277" text-anchor="middle" class="xl">2021.12.31</text>
<text x="1002.50" y="277" text-anchor="middle" class="xl">2022.12.31</text>
<text x="1082.00" y="277" text-anchor="middle" class="xl">2023.09.30</text>
<polyline points="684.50,187.50 764.00,121.25 843.50,92.50 923.00,137.50 1002.50,145.75 1082.00,233.30" fill="none" stroke="#2a88b8" stroke-width="2" stroke-linejoin="miter"/>
<polyline points="684.50,199.00 764.00,109.25 843.50,96.75 923.00,133.00 1002.50,175.00 1082.00,245.80" fill="none" stroke="#4cb1c2" stroke-width="2" stroke-linejoin="miter"/>
<polyline points="684.50,183.25 764.00,138.25 843.50,103.75 923.00,160.00 1002.50,139.50 1082.00,225.50" fill="none" stroke="#6fbba3" stroke-width="2" stroke-linejoin="miter"/>
<polyline points="684.50,163.00 764.00,106.00 843.50,39.25 923.00,73.25 1002.50,57.00 1082.00,214.60" fill="none" stroke="#748a8e" stroke-width="2" stroke-linejoin="miter"/>
<text x="1097.5" y="197.00" class="cd">CDMO</text>
<text x="1097.0" y="216.00" class="lb">特色</text>
<text x="1097.0" y="236.00" class="lb">总体</text>
<text x="1097.0" y="255.25" class="lb">大宗</text>
<line x1="1086.25" y1="214.5" x2="1094.25" y2="194" stroke="#404048" stroke-width="1"/>
<line x1="1086.25" y1="225.8" x2="1094.25" y2="213.25" stroke="#404048" stroke-width="1"/>
<text x="809.20" y="20.60" class="tt" style="letter-spacing:3.08px">总资产净利率</text>
<text x="934.70" y="20.60" class="tt">（</text>
<text x="954.60" y="20.60" class="tp">%</text>
<text x="970.90" y="20.60" class="tt">）</text>
<line x1="31.5" y1="339.0" x2="31.5" y2="548.0" stroke="#000" stroke-width="1"/>
<line x1="26.0" y1="547.5" x2="438.79999999999995" y2="547.5" stroke="#000" stroke-width="1"/>
<line x1="26.0" y1="339.50" x2="31.5" y2="339.50" stroke="#000" stroke-width="1"/>
<text x="23.90" y="343.50" text-anchor="end" class="yl">50</text>
<line x1="26.0" y1="391.50" x2="31.5" y2="391.50" stroke="#000" stroke-width="1"/>
<text x="23.90" y="395.50" text-anchor="end" class="yl">45</text>
<line x1="26.0" y1="443.50" x2="31.5" y2="443.50" stroke="#000" stroke-width="1"/>
<text x="23.90" y="447.50" text-anchor="end" class="yl">40</text>
<line x1="26.0" y1="495.50" x2="31.5" y2="495.50" stroke="#000" stroke-width="1"/>
<text x="23.90" y="499.50" text-anchor="end" class="yl">35</text>
<line x1="26.0" y1="547.50" x2="31.5" y2="547.50" stroke="#000" stroke-width="1"/>
<text x="23.90" y="551.50" text-anchor="end" class="yl">30</text>
<text x="31.50" y="563" text-anchor="middle" class="xl">2018.12.31</text>
<text x="112.96" y="563" text-anchor="middle" class="xl">2019.12.31</text>
<text x="194.42" y="563" text-anchor="middle" class="xl">2020.12.31</text>
<text x="275.88" y="563" text-anchor="middle" class="xl">2021.12.31</text>
<text x="357.34" y="563" text-anchor="middle" class="xl">2022.12.31</text>
<text x="438.80" y="563" text-anchor="middle" class="xl">2023.09.30</text>
<polyline points="31.50,497.75 112.96,463.50 194.42,421.00 275.88,458.50 357.34,471.50 438.80,473.50" fill="none" stroke="#2a88b8" stroke-width="2" stroke-linejoin="miter"/>
<polyline points="31.50,521.50 112.96,483.00 194.42,450.00 275.88,484.50 357.34,509.75 438.80,507.75" fill="none" stroke="#4cb1c2" stroke-width="2" stroke-linejoin="miter"/>
<polyline points="31.50,431.50 112.96,388.50 194.42,340.25 275.88,394.00 357.34,406.00 438.80,410.25" fill="none" stroke="#6fbba3" stroke-width="2" stroke-linejoin="miter"/>
<polyline points="31.50,437.25 112.96,427.75 194.42,355.00 275.88,363.00 357.34,344.75 438.80,350.75" fill="none" stroke="#748a8e" stroke-width="2" stroke-linejoin="miter"/>
<text x="454.25" y="354.25" class="cd">CDMO</text>
<text x="454.4" y="413.50" class="lb">特色</text>
<text x="454.4" y="477.25" class="lb">总体</text>
<text x="454.4" y="511.75" class="lb">大宗</text>
<text x="168.20" y="318.90" class="tt" style="letter-spacing:3.35px">销售毛利率</text>
<text x="273.70" y="318.90" class="tt">（</text>
<text x="293.60" y="318.90" class="tp">%</text>
<text x="309.90" y="318.90" class="tt">）</text>
<line x1="684.5" y1="319.0" x2="684.5" y2="546.0" stroke="#000" stroke-width="1"/>
<line x1="679.0" y1="545.5" x2="1091.0" y2="545.5" stroke="#000" stroke-width="1"/>
<line x1="679.0" y1="319.50" x2="684.5" y2="319.50" stroke="#000" stroke-width="1"/>
<text x="676.90" y="323.50" text-anchor="end" class="yl">22</text>
<line x1="679.0" y1="339.50" x2="684.5" y2="339.50" stroke="#000" stroke-width="1"/>
<text x="676.90" y="343.50" text-anchor="end" class="yl">20</text>
<line x1="679.0" y1="360.50" x2="684.5" y2="360.50" stroke="#000" stroke-width="1"/>
<text x="676.90" y="364.50" text-anchor="end" class="yl">18</text>
<line x1="679.0" y1="380.50" x2="684.5" y2="380.50" stroke="#000" stroke-width="1"/>
<text x="676.90" y="384.50" text-anchor="end" class="yl">16</text>
<line x1="679.0" y1="401.50" x2="684.5" y2="401.50" stroke="#000" stroke-width="1"/>
<text x="676.90" y="405.50" text-anchor="end" class="yl">14</text>
<line x1="679.0" y1="422.50" x2="684.5" y2="422.50" stroke="#000" stroke-width="1"/>
<text x="676.90" y="426.50" text-anchor="end" class="yl">12</text>
<line x1="679.0" y1="442.50" x2="684.5" y2="442.50" stroke="#000" stroke-width="1"/>
<text x="676.90" y="446.50" text-anchor="end" class="yl">10</text>
<line x1="679.0" y1="463.50" x2="684.5" y2="463.50" stroke="#000" stroke-width="1"/>
<text x="676.90" y="467.50" text-anchor="end" class="yl">8</text>
<line x1="679.0" y1="483.50" x2="684.5" y2="483.50" stroke="#000" stroke-width="1"/>
<text x="676.90" y="487.50" text-anchor="end" class="yl">6</text>
<line x1="679.0" y1="504.50" x2="684.5" y2="504.50" stroke="#000" stroke-width="1"/>
<text x="676.90" y="508.50" text-anchor="end" class="yl">4</text>
<line x1="679.0" y1="524.50" x2="684.5" y2="524.50" stroke="#000" stroke-width="1"/>
<text x="676.90" y="528.50" text-anchor="end" class="yl">2</text>
<line x1="679.0" y1="545.50" x2="684.5" y2="545.50" stroke="#000" stroke-width="1"/>
<text x="676.90" y="549.50" text-anchor="end" class="yl">0</text>
<text x="684.25" y="561" text-anchor="middle" class="xl">2018.12.31</text>
<text x="765.60" y="561" text-anchor="middle" class="xl">2019.12.31</text>
<text x="846.95" y="561" text-anchor="middle" class="xl">2020.12.31</text>
<text x="928.30" y="561" text-anchor="middle" class="xl">2021.12.31</text>
<text x="1009.65" y="561" text-anchor="middle" class="xl">2022.12.31</text>
<text x="1091.00" y="561" text-anchor="middle" class="xl">2023.09.30</text>
<polyline points="684.25,415.30 765.60,380.75 846.95,378.25 928.30,420.50 1009.65,423.00 1091.00,486.50" fill="none" stroke="#2a88b8" stroke-width="2" stroke-linejoin="miter"/>
<polyline points="684.25,414.80 765.60,374.50 846.95,378.25 928.30,409.50 1009.65,438.00 1091.00,493.20" fill="none" stroke="#4cb1c2" stroke-width="2" stroke-linejoin="miter"/>
<polyline points="684.25,415.90 765.60,387.75 846.95,389.50 928.30,444.00 1009.65,423.00 1091.00,484.00" fill="none" stroke="#6fbba3" stroke-width="2" stroke-linejoin="miter"/>
<polyline points="684.25,422.70 765.60,378.50 846.95,333.25 928.30,382.50 1009.65,370.75 1091.00,468.10" fill="none" stroke="#748a8e" stroke-width="2" stroke-linejoin="miter"/>
<text x="1106.75" y="455.25" class="cd">CDMO</text>
<text x="1107.0" y="475.00" class="lb">特色</text>
<text x="1107.0" y="494.50" class="lb">总体</text>
<text x="1107.0" y="514.00" class="lb">大宗</text>
<line x1="1095.5" y1="468" x2="1103.2" y2="453" stroke="#404048" stroke-width="1"/>
<line x1="1095.5" y1="484.7" x2="1103.5" y2="471.5" stroke="#404048" stroke-width="1"/>
<line x1="1095.5" y1="493.75" x2="1103.5" y2="509.25" stroke="#404048" stroke-width="1"/>
<text x="809.60" y="317.00" class="tt" style="letter-spacing:3.11px">加权净资产收益率</text>
<text x="976.97" y="315.80" class="tq">(</text>
<text x="982.27" y="316.40" class="tp">%</text>
<text x="998.97" y="315.80" class="tq">)</text>
</svg>
</body></html>
